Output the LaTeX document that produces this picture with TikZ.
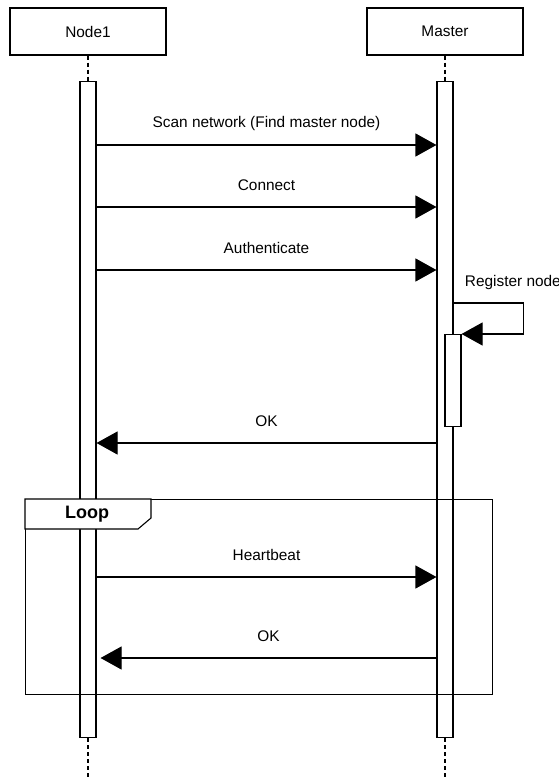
\documentclass[tikz,border=0pt]{standalone}
\usepackage{fontspec}
\setmainfont{Liberation Sans}
\usetikzlibrary{arrows.meta}
\begin{document}
\begin{tikzpicture}[x=1pt,y=-1pt,line width=1.1pt,font=\fontsize{15.4}{18}\selectfont,
	actor/.style={draw,minimum width=156pt,minimum height=47pt,inner sep=0pt},
	bar/.style={draw,fill=white,minimum width=16pt,inner sep=0pt,anchor=north},
	life/.style={dash pattern=on 4pt off 3pt},
	msg/.style={-{Triangle[length=21pt,width=23pt]}},
	lbl/.style={midway,anchor=base,yshift=17pt}]
	\useasboundingbox (0,0) rectangle (558,778);
	\node[actor] (node1) at (88,31.5) {Node1};
	\node[actor] (master) at (445,31.5) {Master};
	\node[bar,minimum height=656pt] (node1act) at (88,81) {};
	\node[bar,minimum height=656pt] (masteract) at (445,81) {};
	\coordinate (node1end) at (88,778);
	\coordinate (masterend) at (445,778);
	\draw[life] (node1) -- (node1act);
	\draw[life] (master) -- (masteract);
	\draw[life] (node1act.south) -- (node1end);
	\draw[life] (masteract.south) -- (masterend);
	% messages
	\draw[msg] ([yshift=-64pt]node1act.north east) -- ([yshift=-64pt]masteract.north west)
	    node[lbl] {Scan network (Find master node)};
	\draw[msg] ([yshift=-126pt]node1act.north east) -- ([yshift=-126pt]masteract.north west)
	    node[lbl] {Connect};
	\draw[msg] ([yshift=-189pt]node1act.north east) -- ([yshift=-189pt]masteract.north west)
	    node[lbl] {Authenticate};
	\node[bar,minimum height=92pt] (regact) at (453,334) {};
	\draw[msg] ([yshift=-222pt]masteract.north east)
	    node[anchor=base west,xshift=7.5pt,yshift=17pt] {Register node}
	    -- ++(70,0) |- (regact.north east);
	\draw[msg] ([yshift=-362pt]masteract.north west) -- ([yshift=-362pt]node1act.north east)
	    node[lbl] {OK};
	% loop
	\node[draw,minimum width=467pt,minimum height=195pt,inner sep=0pt,anchor=north west] (loop) at (25,499) {};
	\draw[fill=white] (loop.north west) -- ++(126,0) -- ++(0,19) -- ++(-13,11) -- ++(-113,0) -- cycle;
	\node[font=\fontsize{18}{20}\bfseries] (looplabel) at (87,514) {Loop};
	\draw[msg] ([yshift=-496pt]node1act.north east) -- ([yshift=-496pt]masteract.north west)
	    node[lbl] {Heartbeat};
	\draw[msg] ([yshift=-577pt]masteract.north west) -- ([yshift=-577pt,xshift=4pt]node1act.north east)
	    node[lbl] {OK};
\end{tikzpicture}
\end{document}
